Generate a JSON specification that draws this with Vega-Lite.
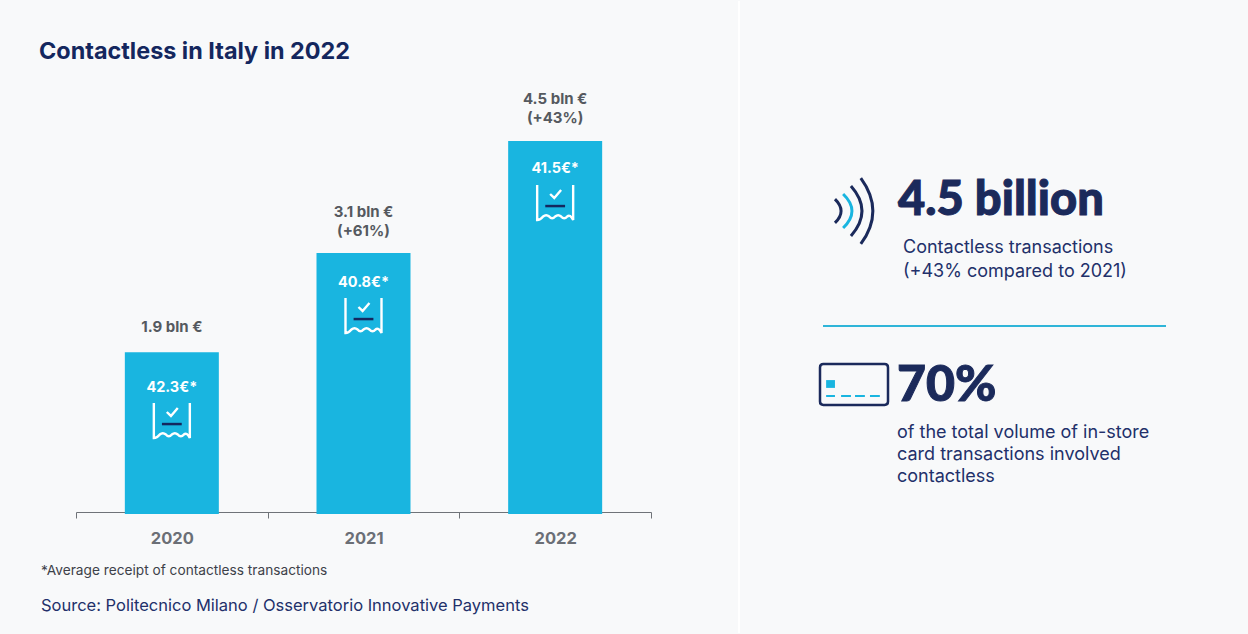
{
"$schema":"https://vega.github.io/schema/vega-lite/v6.json",
"width":1248,"height":634,"padding":0,
"autosize":{"type":"fit","contains":"padding"},
"background":"#f8f9fa",
"config":{"view":{"stroke":null},"font":"Inter"},
"resolve":{"scale":{"x":"independent","y":"independent"},"axis":{"x":"independent","y":"independent"}},
"datasets":{
"bars":[
{"year":"2020","value":1.95,"upper":"","lower":"1.9 bln €","receipt":"42.3€*"},
{"year":"2021","value":3.15,"upper":"3.1 bln €","lower":"(+61%)","receipt":"40.8€*"},
{"year":"2022","value":4.5,"upper":"4.5 bln €","lower":"(+43%)","receipt":"41.5€*"}]
},
"layer":[
{"data":{"values":[{"name":"divider"}]},"mark":{"type":"rule","stroke":"#ffffff","strokeWidth":2},
"encoding":{"x":{"field":"name","type":"nominal","axis":null,"scale":{"type":"point","padding":0,"range":[739,739]}}}},
{"data":{"name":"bars"},"mark":{"type":"bar","color":"#19b5e0","width":94},
"encoding":{
"x":{"field":"year","type":"nominal","scale":{"type":"band","range":[76,651],"paddingInner":0,"paddingOuter":0},
"axis":{"title":null,"orient":"bottom","offset":-121,"labelAngle":0,"tickBand":"extent","domainColor":"#6f7378","tickColor":"#6f7378","tickSize":6,"labelFontSize":16.5,"labelFontWeight":"bold","labelColor":"#6b6f76","labelPadding":12,"labelFont":"Inter","grid":false}},
"y":{"field":"value","type":"quantitative","axis":null,"scale":{"domain":[0,4.5],"range":[513,140]}}}},
{"data":{"name":"bars"},"mark":{"type":"text","fontWeight":"bold","fontSize":15,"color":"#55595f","baseline":"middle"},
"encoding":{
"x":{"field":"year","type":"nominal","axis":null,"scale":{"type":"band","range":[76,651],"padding":0}},
"y":{"field":"value","type":"quantitative","axis":null,"scale":{"domain":[1.95,3.15,4.5],"range":[326,211,98]}},
"text":{"field":"upper"}}},
{"data":{"name":"bars"},"mark":{"type":"text","fontWeight":"bold","fontSize":15,"color":"#55595f","baseline":"middle"},
"encoding":{
"x":{"field":"year","type":"nominal","axis":null,"scale":{"type":"band","range":[76,651],"padding":0}},
"y":{"field":"value","type":"quantitative","axis":null,"scale":{"domain":[1.95,3.15,4.5],"range":[326,230,117]}},
"text":{"field":"lower"}}},
{"data":{"name":"bars"},"mark":{"type":"text","fontWeight":"bold","fontSize":14.5,"color":"#ffffff","baseline":"middle"},
"encoding":{
"x":{"field":"year","type":"nominal","axis":null,"scale":{"type":"band","range":[76,651],"padding":0}},
"y":{"field":"value","type":"quantitative","axis":null,"scale":{"domain":[1.95,3.15,4.5],"range":[387,282,168]}},
"text":{"field":"receipt"}}},
{"data":{"name":"bars"},"mark":{"type":"point","filled":false,"opacity":1,"stroke":"#ffffff","strokeWidth":2.4,"size":1296,"shape":"M-1,-1 L-1,.95 Q-.83,.95 -.67,.75 Q-.5,.6 -.33,.75 Q-.17,.95 0,.75 Q.17,.6 .33,.75 Q.5,.95 .67,.75 Q.83,.6 1,.95 L1,-1 M-.28,-.5 L-.05,-.28 L.33,-.72"},
"encoding":{
"x":{"field":"year","type":"nominal","axis":null,"scale":{"type":"band","range":[76,651],"padding":0}},
"y":{"field":"value","type":"quantitative","axis":null,"scale":{"domain":[1.95,3.15,4.5],"range":[420,315,202]}}}},
{"data":{"name":"bars"},"mark":{"type":"point","filled":false,"opacity":1,"stroke":"#14275e","strokeWidth":2.5,"size":1296,"shape":"M-.55,.17 L.55,.17"},
"encoding":{
"x":{"field":"year","type":"nominal","axis":null,"scale":{"type":"band","range":[76,651],"padding":0}},
"y":{"field":"value","type":"quantitative","axis":null,"scale":{"domain":[1.95,3.15,4.5],"range":[420,315,202]}}}},
{"data":{"values":[{"t":"Contactless in Italy in 2022"}]},"mark":{"type":"text","fontWeight":"bold","fontSize":23.4,"color":"#14275e","align":"left","baseline":"middle"},
"encoding":{"text":{"field":"t"},
"x":{"field":"t","type":"nominal","axis":null,"scale":{"type":"point","padding":0,"range":[39,39]}},
"y":{"field":"t","type":"nominal","axis":null,"scale":{"type":"point","padding":0,"range":[51,51]}}}},
{"data":{"values":[{"t":"*Average receipt of contactless transactions"}]},"mark":{"type":"text","fontSize":13.7,"color":"#3d4149","align":"left","baseline":"middle"},
"encoding":{"text":{"field":"t"},
"x":{"field":"t","type":"nominal","axis":null,"scale":{"type":"point","padding":0,"range":[41,41]}},
"y":{"field":"t","type":"nominal","axis":null,"scale":{"type":"point","padding":0,"range":[570,570]}}}},
{"data":{"values":[{"t":"Source: Politecnico Milano / Osservatorio Innovative Payments"}]},"mark":{"type":"text","fontSize":16.5,"color":"#22306a","align":"left","baseline":"middle"},
"encoding":{"text":{"field":"t"},
"x":{"field":"t","type":"nominal","axis":null,"scale":{"type":"point","padding":0,"range":[41,41]}},
"y":{"field":"t","type":"nominal","axis":null,"scale":{"type":"point","padding":0,"range":[605,605]}}}},
{"data":{"values":[{"t":"4.5 billion"}]},"mark":{"type":"text","font":"Lato","fontWeight":900,"fontSize":47,"stroke":"#1b2a5b","strokeWidth":1,"color":"#1b2a5b","align":"left","baseline":"middle"},
"encoding":{"text":{"field":"t"},
"x":{"field":"t","type":"nominal","axis":null,"scale":{"type":"point","padding":0,"range":[898,898]}},
"y":{"field":"t","type":"nominal","axis":null,"scale":{"type":"point","padding":0,"range":[200,200]}}}},
{"data":{"values":[{"t":"70%"}]},"mark":{"type":"text","font":"Lato","fontWeight":900,"fontSize":50,"stroke":"#1b2a5b","strokeWidth":1,"color":"#1b2a5b","align":"left","baseline":"middle"},
"encoding":{"text":{"field":"t"},
"x":{"field":"t","type":"nominal","axis":null,"scale":{"type":"point","padding":0,"range":[897,897]}},
"y":{"field":"t","type":"nominal","axis":null,"scale":{"type":"point","padding":0,"range":[385,385]}}}},
{"data":{"values":[{"t":"Contactless transactions","c":"a"},{"t":"(+43% compared to 2021)","c":"a"}]},"mark":{"type":"text","fontSize":18,"color":"#22306a","align":"left","baseline":"middle"},
"encoding":{"text":{"field":"t"},
"x":{"field":"c","type":"nominal","axis":null,"scale":{"type":"point","padding":0,"range":[903,903]}},
"y":{"field":"t","type":"nominal","sort":null,"axis":null,"scale":{"type":"point","padding":0,"range":[247,271]}}}},
{"data":{"values":[{"t":"of the total volume of in-store","c":"b"},{"t":"card transactions involved","c":"b"},{"t":"contactless","c":"b"}]},"mark":{"type":"text","fontSize":18,"color":"#22306a","align":"left","baseline":"middle"},
"encoding":{"text":{"field":"t"},
"x":{"field":"c","type":"nominal","axis":null,"scale":{"type":"point","padding":0,"range":[897,897]}},
"y":{"field":"t","type":"nominal","sort":null,"axis":null,"scale":{"type":"point","padding":0,"range":[432,476]}}}},
{"data":{"values":[{"from":0,"to":1,"name":"separator"}]},"mark":{"type":"rule","stroke":"#2fb5d8","strokeWidth":2},
"encoding":{
"x":{"field":"from","type":"quantitative","axis":null,"scale":{"domain":[0,1],"range":[823,1166]}},
"x2":{"field":"to"},
"y":{"field":"name","type":"nominal","axis":null,"scale":{"type":"point","padding":0,"range":[325,325]}}}},
{"data":{"values":[{"icon":"contactless"}]},"mark":{"type":"point","filled":false,"opacity":1,"stroke":"#1b2a5b","strokeWidth":3,"size":4624,"shape":"M.2,-.97 Q.91,0 .2,.97 M-.09,-.735 Q.56,0 -.09,.735 M-.56,-.35 Q-.2,0 -.56,.35"},
"encoding":{
"x":{"field":"icon","type":"nominal","axis":null,"scale":{"type":"point","padding":0,"range":[854,854]}},
"y":{"field":"icon","type":"nominal","axis":null,"scale":{"type":"point","padding":0,"range":[210,210]}}}},
{"data":{"values":[{"icon":"contactless"}]},"mark":{"type":"point","filled":false,"opacity":1,"stroke":"#19b5e0","strokeWidth":3,"size":4624,"shape":"M-.32,-.5 Q.2,0 -.32,.5"},
"encoding":{
"x":{"field":"icon","type":"nominal","axis":null,"scale":{"type":"point","padding":0,"range":[854,854]}},
"y":{"field":"icon","type":"nominal","axis":null,"scale":{"type":"point","padding":0,"range":[210,210]}}}},
{"data":{"values":[{"icon":"card"}]},"mark":{"type":"point","filled":false,"opacity":1,"stroke":"#1b2a5b","strokeWidth":2.5,"size":4624,"shape":"M-.9,-.6 L.9,-.6 Q1,-.6 1,-.5 L1,.5 Q1,.6 .9,.6 L-.9,.6 Q-1,.6 -1,.5 L-1,-.5 Q-1,-.6 -.9,-.6 Z"},
"encoding":{
"x":{"field":"icon","type":"nominal","axis":null,"scale":{"type":"point","padding":0,"range":[854,854]}},
"y":{"field":"icon","type":"nominal","axis":null,"scale":{"type":"point","padding":0,"range":[383.5,383.5]}}}},
{"data":{"values":[{"icon":"card"}]},"mark":{"type":"point","filled":false,"opacity":1,"stroke":"#19b5e0","strokeWidth":2,"size":4624,"shape":"M-.82,.34 L-.56,.34 M-.38,.34 L-.09,.34 M.03,.34 L.32,.34 M.47,.34 L.76,.34"},
"encoding":{
"x":{"field":"icon","type":"nominal","axis":null,"scale":{"type":"point","padding":0,"range":[854,854]}},
"y":{"field":"icon","type":"nominal","axis":null,"scale":{"type":"point","padding":0,"range":[383.5,383.5]}}}},
{"data":{"values":[{"icon":"card"}]},"mark":{"type":"point","filled":true,"opacity":1,"fill":"#19b5e0","size":4624,"shape":"M-.82,-.13 L-.56,-.13 L-.56,.1 L-.82,.1 Z"},
"encoding":{
"x":{"field":"icon","type":"nominal","axis":null,"scale":{"type":"point","padding":0,"range":[854,854]}},
"y":{"field":"icon","type":"nominal","axis":null,"scale":{"type":"point","padding":0,"range":[383.5,383.5]}}}}
]
}
